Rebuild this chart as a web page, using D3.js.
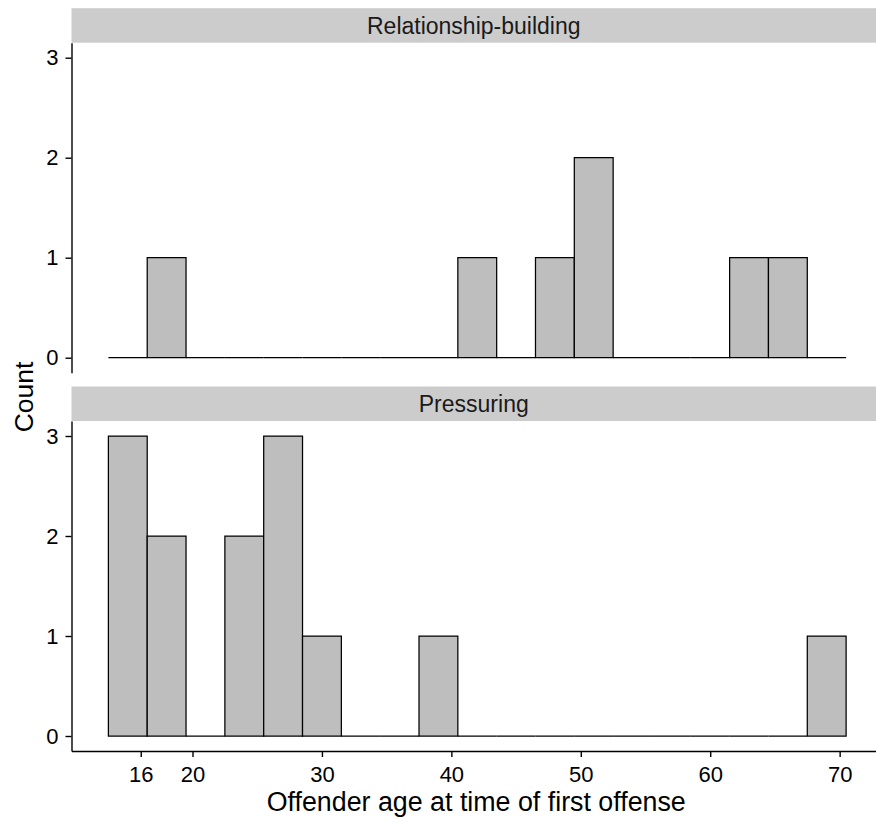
<!DOCTYPE html>
<html>
<head>
<meta charset="utf-8">
<script src="https://cdn.jsdelivr.net/npm/d3@7"></script>
<style>
  body { margin: 0; background: #fff; }
  svg { display: block; font-family: "Liberation Sans", Arial, sans-serif; }
  .axis path, .axis line { stroke: #000; stroke-width: 1.4; }
</style>
</head>
<body>
<div id="chart"></div>
<script>
// histogram bins (binwidth 3), centers in years
var binCenters = [15, 18, 21, 24, 27, 30, 33, 36, 39, 42, 45, 48, 51, 54, 57, 60, 63, 66, 69];
var binWidth = 3;

var facets = ["Relationship-building", "Pressuring"];
var relationshipCounts = [0, 1, 0, 0, 0, 0, 0, 0, 0, 1, 0, 1, 2, 0, 0, 0, 1, 1, 0];
var pressuringCounts   = [3, 2, 0, 2, 3, 1, 0, 0, 1, 0, 0, 0, 0, 0, 0, 0, 0, 0, 1];

var xTicks = [16, 20, 30, 40, 50, 60, 70];
var yTicks = [0, 1, 2, 3];

var width = 876, height = 822;
var panelLeft = 71.5, panelRight = 883;
var stripH = 34.5, panelH = 330;
var panelTops = [42.7, 421];

var svg = d3.select("#chart").append("svg")
    .attr("width", width)
    .attr("height", height);

var lo = binCenters[0] - binWidth / 2,
    hi = binCenters[binCenters.length - 1] + binWidth / 2,
    pad = (hi - lo) * 0.05;

var x = d3.scaleLinear()
    .domain([lo - pad, hi + pad])
    .range([panelLeft, panelRight]);

var countsByFacet = [relationshipCounts, pressuringCounts];

function styleAxis(g) {
    g.attr("font-family", null).attr("font-size", null);
    g.selectAll("text")
        .style("font-family", "'Liberation Sans', Arial, sans-serif")
        .style("font-size", "22px")
        .attr("fill", "#000");
}

facets.forEach(function (name, i) {
    var top = panelTops[i];
    var y = d3.scaleLinear()
        .domain([-0.15, 3.15])
        .range([top + panelH, top]);

    // strip
    svg.append("rect")
        .attr("x", panelLeft)
        .attr("y", top - stripH)
        .attr("width", panelRight - panelLeft)
        .attr("height", stripH)
        .attr("fill", "#cccccc");

    svg.append("text")
        .attr("x", (panelLeft + panelRight - 7) / 2)
        .attr("y", top - stripH / 2)
        .attr("dy", "0.36em")
        .attr("text-anchor", "middle")
        .attr("font-size", 23)
        .attr("fill", "#1a1a1a")
        .text(name);

    var data = binCenters.map(function (c, j) {
        return { x0: c - binWidth / 2, x1: c + binWidth / 2, n: countsByFacet[i][j] };
    });

    // bars (zero bins still draw their outline as a flat line)
    svg.append("g")
        .selectAll("path")
        .data(data)
        .enter().append("path")
        .attr("d", function (d) {
            var x0 = x(d.x0), x1 = x(d.x1), y0 = y(0), y1 = y(d.n);
            return "M" + x0 + "," + y0 + "V" + y1 + "H" + x1 + "V" + y0 + "Z";
        })
        .attr("fill", "#bebebe")
        .attr("stroke", "#000")
        .attr("stroke-width", 1.25);

    svg.append("g")
        .attr("class", "axis")
        .attr("transform", "translate(" + panelLeft + ",0)")
        .call(d3.axisLeft(y).tickValues(yTicks).tickFormat(d3.format("d"))
            .tickSize(6).tickSizeOuter(0).tickPadding(7))
        .call(styleAxis);

    if (i === facets.length - 1) {
        svg.append("g")
            .attr("class", "axis")
            .attr("transform", "translate(0," + (top + panelH) + ")")
            .call(d3.axisBottom(x).tickValues(xTicks).tickFormat(d3.format("d"))
                .tickSize(6).tickSizeOuter(0).tickPadding(9))
            .call(styleAxis);
    }
});

// axis titles
svg.append("text")
    .attr("x", (panelLeft + 883) / 2 - 1)
    .attr("y", 811)
    .attr("text-anchor", "middle")
    .attr("font-size", 26.8)
    .attr("fill", "#000")
    .text("Offender age at time of first offense");

svg.append("text")
    .attr("transform", "translate(33,397) rotate(-90)")
    .attr("text-anchor", "middle")
    .attr("font-size", 26.5)
    .attr("fill", "#000")
    .text("Count");
</script>
</body>
</html>
